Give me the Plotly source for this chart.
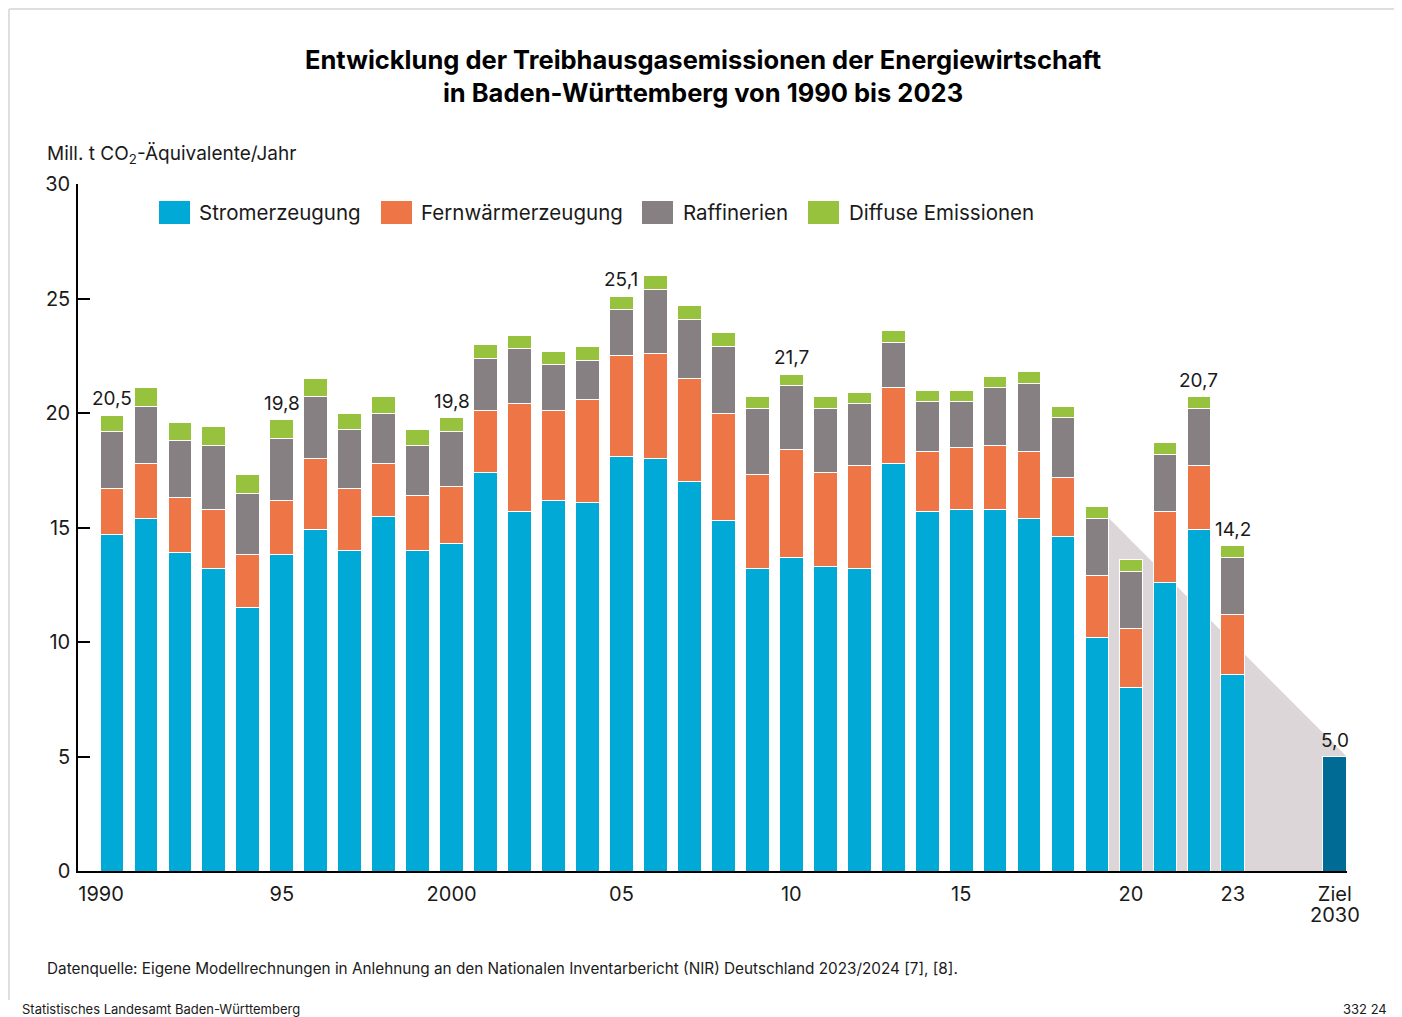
import plotly.graph_objects as go

# ---------------- data ----------------
years = list(range(1990, 2024))
strom = [14.7, 15.4, 13.9, 13.2, 11.5, 13.8, 14.9, 14.0, 15.5, 14.0,
         14.3, 17.4, 15.7, 16.2, 16.1, 18.1, 18.0, 17.0, 15.3, 13.2,
         13.7, 13.3, 13.2, 17.8, 15.7, 15.8, 15.8, 15.4, 14.6, 10.2,
         8.0, 12.6, 14.9, 8.6]
fernwaerme = [2.0, 2.4, 2.4, 2.6, 2.3, 2.4, 3.1, 2.7, 2.3, 2.4,
              2.5, 2.7, 4.7, 3.9, 4.5, 4.4, 4.6, 4.5, 4.7, 4.1,
              4.7, 4.1, 4.5, 3.3, 2.6, 2.7, 2.8, 2.9, 2.6, 2.7,
              2.6, 3.1, 2.8, 2.6]
raffinerien = [2.5, 2.5, 2.5, 2.8, 2.7, 2.7, 2.7, 2.6, 2.2, 2.2,
               2.4, 2.3, 2.4, 2.0, 1.7, 2.0, 2.8, 2.6, 2.9, 2.9,
               2.8, 2.8, 2.7, 2.0, 2.2, 2.0, 2.5, 3.0, 2.6, 2.5,
               2.5, 2.5, 2.5, 2.5]
diffus = [0.7, 0.8, 0.8, 0.8, 0.8, 0.8, 0.8, 0.7, 0.7, 0.7,
          0.6, 0.6, 0.6, 0.6, 0.6, 0.6, 0.6, 0.6, 0.6, 0.5,
          0.5, 0.5, 0.5, 0.5, 0.5, 0.5, 0.5, 0.5, 0.5, 0.5,
          0.5, 0.5, 0.5, 0.5]
ziel_label = ["Ziel", "2030"]
ziel_value = 5.0

label_years = [1990, 1995, 2000, 2005, 2010, 2022, 2023]
label_texts = ["20,5", "19,8", "19,8", "25,1", "21,7", "20,7", "14,2"]

tick_labels = ["1990", "95", "2000", "05", "10", "15", "20", "23"]
tick_years = [1990, 1995, 2000, 2005, 2010, 2015, 2020, 2023]

series_names = ["Stromerzeugung", "Fernwärmerzeugung", "Raffinerien", "Diffuse Emissionen"]
title_lines = ["Entwicklung der Treibhausgasemissionen der Energiewirtschaft",
               "in Baden-Württemberg von 1990 bis 2023"]

# ---------------- style ----------------
C_BLUE = "#00a9d6"
C_ORANGE = "#ee7545"
C_GREY = "#878083"
C_GREEN = "#96c23d"
C_TARGET = "#006b95"
C_SHADE = "#dcd6d8"
TXT = "#1a1a1a"
FONT = "Inter"

OFF = 8                      # page body margin in the browser
W, H = 1402 - OFF, 1017 - OFF
ML, MR, MT, MB = 78 - OFF, 55, 184 - OFF, 146
PW, PH = W - ML - MR, H - MT - MB

def px(x):   # reference-picture pixel -> paper
    return (x - OFF - ML) / PW

def py(y):
    return (H - MB - (y - OFF)) / PH

BAR_W = 0.7
pos = list(range(len(years)))
ziel_pos = len(years) - 1 + 3

fig = go.Figure()
stack = [(series_names[0], strom, C_BLUE),
         (series_names[1], fernwaerme, C_ORANGE),
         (series_names[2], raffinerien, C_GREY),
         (series_names[3], diffus, C_GREEN)]
for name, vals, col in stack:
    fig.add_trace(go.Bar(x=pos, y=vals, name=name, width=BAR_W,
                         marker=dict(color=col, line=dict(color="white", width=1)),
                         showlegend=False))
fig.add_trace(go.Bar(x=[ziel_pos], y=[ziel_value], width=BAR_W, name="Ziel 2030",
                     marker=dict(color=C_TARGET, line=dict(color="white", width=1)),
                     showlegend=False))

totals = [s + f + r + d for s, f, r, d in zip(strom, fernwaerme, raffinerien, diffus)]

i19 = years.index(2019)
start_val = strom[i19] + fernwaerme[i19] + raffinerien[i19]
x0 = pos[i19] + BAR_W / 2
x1 = ziel_pos + BAR_W / 2
shapes = [dict(type="path", xref="x", yref="y", layer="below",
               path=f"M {x0},0 L {x0},{start_val} L {x1},{ziel_value} L {x1},0 Z",
               fillcolor=C_SHADE, line=dict(width=0))]

frame_col = "#e2dddf"
shapes += [
    dict(type="line", xref="paper", yref="paper", x0=px(9), x1=px(9), y0=py(9), y1=py(1000),
         line=dict(color=frame_col, width=2), layer="below"),
    dict(type="line", xref="paper", yref="paper", x0=px(1397), x1=px(1397), y0=py(9), y1=py(1000),
         line=dict(color=frame_col, width=2), layer="below"),
    dict(type="line", xref="paper", yref="paper", x0=px(9), x1=px(1397), y0=py(9), y1=py(9),
         line=dict(color=frame_col, width=2), layer="below"),
]

annotations = []
for yv, t in zip(label_years, label_texts):
    i = years.index(yv)
    annotations.append(dict(x=pos[i], y=totals[i], text=t, xref="x", yref="y",
                            showarrow=False, yanchor="bottom", yshift=3,
                            font=dict(size=19, color=TXT, family=FONT)))
annotations.append(dict(x=ziel_pos, y=ziel_value, text="5,0", xref="x", yref="y",
                        showarrow=False, yanchor="bottom", yshift=3,
                        font=dict(size=19, color=TXT, family=FONT)))

leg_items = [(159, 197, C_BLUE, series_names[0]),
             (381, 419, C_ORANGE, series_names[1]),
             (642, 681, C_GREY, series_names[2]),
             (808, 847, C_GREEN, series_names[3])]
for sx, tx, col, name in leg_items:
    shapes.append(dict(type="rect", xref="paper", yref="paper",
                       x0=px(sx), x1=px(sx + 31), y0=py(224), y1=py(201),
                       fillcolor=col, line=dict(width=0)))
    annotations.append(dict(x=px(tx), y=py(213), xref="paper", yref="paper", text=name,
                            showarrow=False, xanchor="left", yanchor="middle",
                            font=dict(size=20.5, color=TXT, family=FONT)))

annotations.append(dict(x=px(703), y=py(76), xref="paper", yref="paper",
                        text="<b>" + "<br>".join(title_lines) + "</b>",
                        showarrow=False, xanchor="center", yanchor="middle",
                        font=dict(size=25.5, color="#000000", family=FONT)))
annotations.append(dict(x=px(45), y=py(155), xref="paper", yref="paper",
                        text="Mill. t CO<sub>2</sub>-Äquivalente/Jahr",
                        showarrow=False, xanchor="left", yanchor="middle",
                        font=dict(size=19, color=TXT, family=FONT)))
annotations.append(dict(x=px(45), y=py(968), xref="paper", yref="paper",
                        text="Datenquelle: Eigene Modellrechnungen in Anlehnung an den Nationalen Inventarbericht (NIR) Deutschland 2023/2024 [7], [8].",
                        showarrow=False, xanchor="left", yanchor="middle",
                        font=dict(size=15.3, color=TXT, family=FONT)))
annotations.append(dict(x=px(20), y=py(1009), xref="paper", yref="paper",
                        text="Statistisches Landesamt Baden-Württemberg",
                        showarrow=False, xanchor="left", yanchor="middle",
                        font=dict(size=13, color=TXT, family=FONT)))
annotations.append(dict(x=px(1389), y=py(1009), xref="paper", yref="paper",
                        text="332 24",
                        showarrow=False, xanchor="right", yanchor="middle",
                        font=dict(size=13, color=TXT, family=FONT)))
# second line of the target tick label
annotations.append(dict(x=ziel_pos, y=py(915), xref="x", yref="paper",
                        text=ziel_label[1], showarrow=False, xanchor="center", yanchor="middle",
                        font=dict(size=20, color=TXT, family=FONT)))

tickvals = [pos[years.index(y)] for y in tick_years] + [ziel_pos]
tickvals[0] = tickvals[0] - 0.32
ticktext = tick_labels + [ziel_label[0]]

fig.update_layout(
    width=W, height=H, autosize=False,
    margin=dict(l=ML, r=MR, t=MT, b=MB, pad=0),
    barmode="stack",
    plot_bgcolor="white", paper_bgcolor="white",
    font=dict(family=FONT, color=TXT, size=20),
    shapes=shapes, annotations=annotations,
    showlegend=False,
    xaxis=dict(range=[-1.0, ziel_pos + BAR_W / 2 + 0.01], showgrid=False, zeroline=False,
               showline=True, linecolor="#000000", linewidth=1.5,
               ticks="", tickvals=tickvals, ticktext=ticktext,
               tickfont=dict(size=20, color=TXT, family=FONT), ticklabelstandoff=4),
    yaxis=dict(range=[0, 30], showgrid=False, zeroline=False,
               showline=True, linecolor="#000000", linewidth=1.5,
               ticks="inside", ticklen=12, tickwidth=1.5, tickcolor="#000000",
               tickvals=[0, 5, 10, 15, 20, 25, 30],
               tickfont=dict(size=20, color=TXT, family=FONT), ticklabelstandoff=2),
)

fig.write_html("out.html")
